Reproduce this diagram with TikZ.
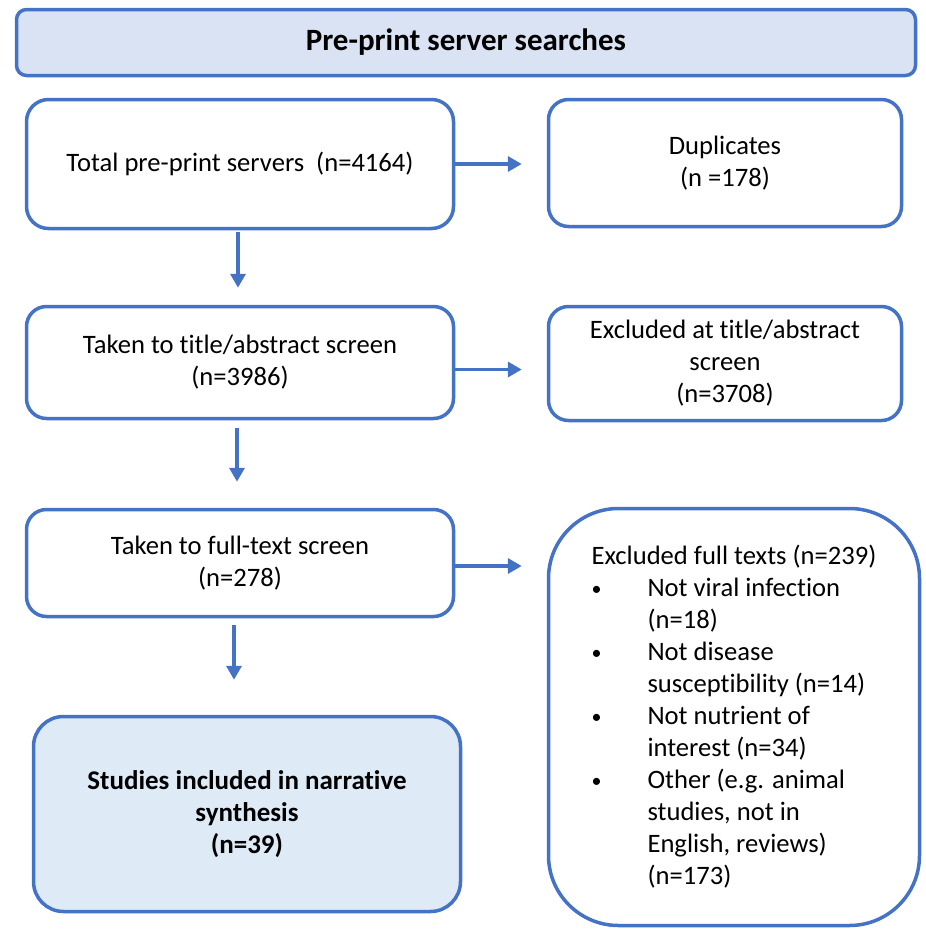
\documentclass[tikz,border=0pt]{standalone}
\usepackage{fontspec}
\setmainfont[Ligatures=NoCommon]{Carlito}
\usetikzlibrary{arrows.meta}
\definecolor{bord}{HTML}{4472C4}
\definecolor{headfill}{HTML}{DAE3F3}
\definecolor{studfill}{HTML}{DEEBF7}
\newcommand{\bul}{\makebox[56pt][l]{\raisebox{1pt}{\fontsize{20}{20}\selectfont\textbullet}}}
\tikzset{
  box/.style={draw=bord, line width=3.5pt, fill=white, align=center, inner sep=0pt,
    font=\fontsize{26.6}{32}\selectfont, rounded corners=22pt},
  arr/.style={draw=bord, line width=3.5pt, -{Triangle[length=14pt,width=15pt]}},
}
\begin{document}
\begin{tikzpicture}[x=1pt,y=-1pt]
\useasboundingbox (0,0) rectangle (926,929);
\node[box, fill=headfill, rounded corners=10pt, minimum width=899pt, minimum height=66pt,
  font=\fontsize{31}{34}\selectfont\bfseries] (head) at (466,42.5) {Pre-print server searches};
\node[box, minimum width=427pt, minimum height=129pt] (b1) at (240,164)
  {Total pre-print servers\ \ (n=4164)};
\node[box, minimum width=353pt, minimum height=127pt, rounded corners=20pt] (dup) at (725,163)
  {Duplicates\\(n =178)};
\node[box, minimum width=427pt, minimum height=112pt, rounded corners=20pt] (b2) at (240,362.5)
  {Taken to title/abstract screen\\(n=3986)};
\node[box, minimum width=353pt, minimum height=114pt, rounded corners=20pt] (ex2) at (725,363.5)
  {Excluded at title/abstract\\screen\\(n=3708)};
\node[box, minimum width=427pt, minimum height=107pt, rounded corners=20pt] (b3) at (240,563)
  {Taken to full-text screen\\(n=278)};
\node[box, align=left, minimum width=371pt, minimum height=417pt, rounded corners=70pt] (ex3) at (734,717)
  {Excluded full texts (n=239)\\
   \bul Not viral infection\\
   \hspace*{56pt}(n=18)\\
   \bul Not disease\\
   \hspace*{56pt}susceptibility (n=14)\\
   \bul Not nutrient of\\
   \hspace*{56pt}interest (n=34)\\
   \bul Other (e.g. animal\\
   \hspace*{56pt}studies, not in\\
   \hspace*{56pt}English, reviews)\\
   \hspace*{56pt}(n=173)};
\node[box, fill=studfill, minimum width=427pt, minimum height=195pt, rounded corners=30pt,
  font=\fontsize{27}{32}\selectfont\bfseries] (st) at (247,814)
  {Studies included in narrative\\synthesis\\(n=39)};
\draw[arr, shorten >=25pt] (b1.east) -- (b1.east -| dup.west);
\draw[arr, shorten >=25pt] ([yshift=-7pt]b2.east) -- ([yshift=-7pt]b2.east -| ex2.west);
\draw[arr, shorten >=25pt] ([yshift=-3pt]b3.east) -- ([yshift=-3pt]b3.east -| ex3.west);
\draw[arr, shorten <=2pt, shorten >=17pt] ([xshift=-2pt]b1.south) -- ([xshift=-2pt]b1.south |- b2.north);
\draw[arr, shorten <=8pt, shorten >=26pt] ([xshift=-3pt]b2.south) -- ([xshift=-3pt]b2.south |- b3.north);
\draw[arr, shorten <=7pt, shorten >=35pt] ([xshift=-6pt]b3.south) -- ([xshift=-6pt]b3.south |- st.north);
\end{tikzpicture}
\end{document}
